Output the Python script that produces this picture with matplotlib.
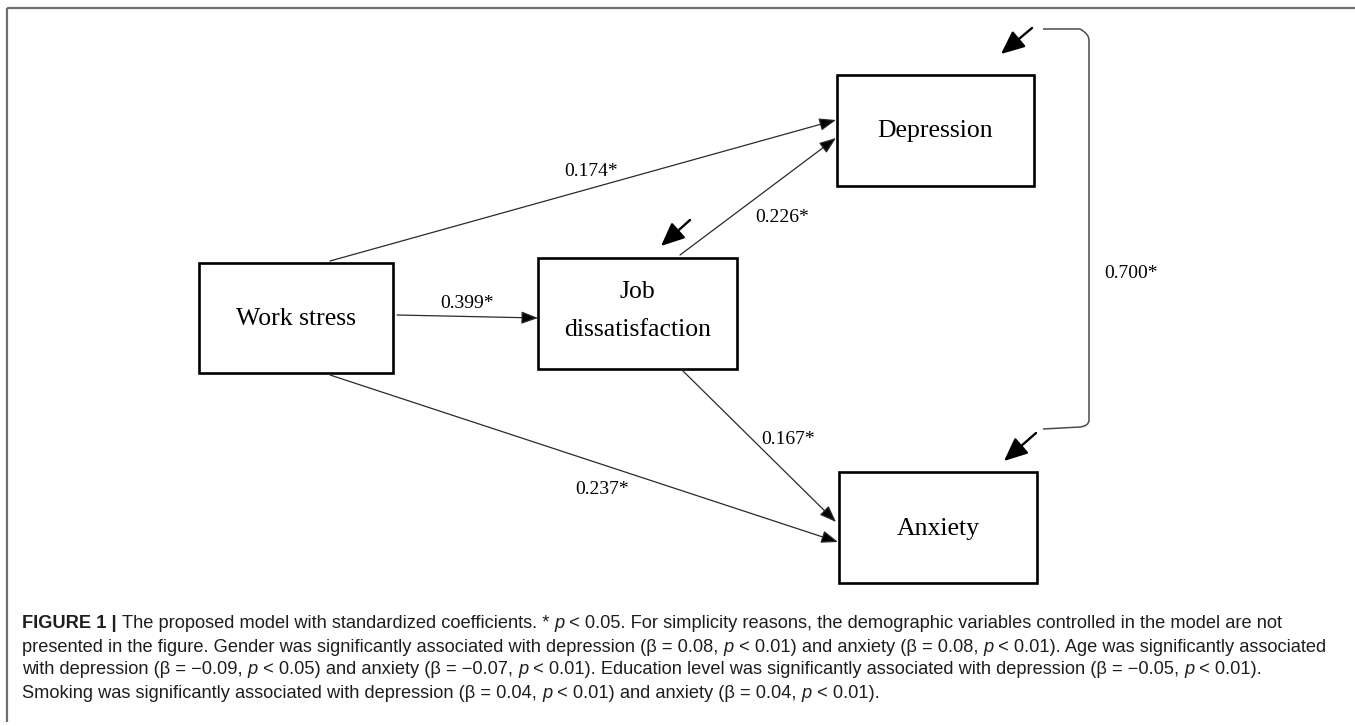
import matplotlib
matplotlib.use("Agg")
import matplotlib.pyplot as plt
from matplotlib.patches import Rectangle, PathPatch
from matplotlib.path import Path
from matplotlib.font_manager import FontProperties

# ---- data -------------------------------------------------------------
nodes = ["Work stress", "Job\ndissatisfaction", "Depression", "Anxiety"]
paths = [("Work stress", "Depression"), ("Job\ndissatisfaction", "Depression"),
         ("Work stress", "Job\ndissatisfaction"), ("Work stress", "Anxiety"),
         ("Job\ndissatisfaction", "Anxiety")]
coefs = ["0.174*", "0.226*", "0.399*", "0.237*", "0.167*"]
covariance = "0.700*"

caption = [
    [("FIGURE 1 | ", "bold", "normal"),
     ("The proposed model with standardized coefficients. * ", "normal", "normal"),
     ("p", "normal", "italic"),
     (" < 0.05. For simplicity reasons, the demographic variables controlled in the model are not", "normal", "normal")],
    [("presented in the figure. Gender was significantly associated with depression (\u03b2 = 0.08, ", "normal", "normal"),
     ("p", "normal", "italic"),
     (" < 0.01) and anxiety (\u03b2 = 0.08, ", "normal", "normal"),
     ("p", "normal", "italic"),
     (" < 0.01). Age was significantly associated", "normal", "normal")],
    [("with depression (\u03b2 = \u22120.09, ", "normal", "normal"),
     ("p", "normal", "italic"),
     (" < 0.05) and anxiety (\u03b2 = \u22120.07, ", "normal", "normal"),
     ("p", "normal", "italic"),
     (" < 0.01). Education level was significantly associated with depression (\u03b2 = \u22120.05, ", "normal", "normal"),
     ("p", "normal", "italic"),
     (" < 0.01).", "normal", "normal")],
    [("Smoking was significantly associated with depression (\u03b2 = 0.04, ", "normal", "normal"),
     ("p", "normal", "italic"),
     (" < 0.01) and anxiety (\u03b2 = 0.04, ", "normal", "normal"),
     ("p", "normal", "italic"),
     (" < 0.01).", "normal", "normal")],
]

# ---- layout (pixel coordinates) --------------------------------------
box_pos = {"Work stress": (199, 263, 194, 110),
           "Job\ndissatisfaction": (538, 258, 199, 111),
           "Depression": (837, 75, 197, 111),
           "Anxiety": (839, 472, 198, 111)}
path_xy = [((330, 261), (836, 120)), ((680, 255), (836, 138)),
           ((397, 315), (538, 318)), ((330, 375), (838, 542)),
           ((682, 370), (836, 522))]
label_xy = [(591, 172), (782, 217), (467, 303), (602, 490), (788, 440)]
resid_xy = [((690, 220), (661, 246)), ((1032, 28), (1001, 54)),
            ((1036, 433), (1004, 461))]

serif = "Liberation Serif"
cap_font = ["Liberation Sans Narrow", "Liberation Sans", "DejaVu Sans"]

W, H = 1355, 726
fig = plt.figure(figsize=(W / 100, H / 100), dpi=100)
ax = fig.add_axes([0, 0, 1, 1])
ax.set_xlim(0, W)
ax.set_ylim(H, 0)
ax.axis("off")

# frame of the figure panel (only top and left visible)
ax.plot([7, W], [8, 8], color="#6e6e6e", lw=1.6, solid_capstyle="butt")
ax.plot([7, 7], [8, 722], color="#6e6e6e", lw=1.6, solid_capstyle="butt")

# boxes
for name in nodes:
    x, y, w, h = box_pos[name]
    ax.add_patch(Rectangle((x, y), w, h, fill=False, ec="black", lw=1.9))
    cx, cy = x + w / 2, y + h / 2
    if "\n" in name:
        top, bot = name.split("\n")
        ax.text(cx, cy - 21, top, ha="center", va="center", fontsize=18.5, family=serif)
        ax.text(cx, cy + 16, bot, ha="center", va="center", fontsize=18.5, family=serif)
    else:
        ax.text(cx, cy + 1, name, ha="center", va="center", fontsize=18.5, family=serif)

# structural paths
for (p0, p1), lab, (lx, ly) in zip(path_xy, coefs, label_xy):
    ax.annotate("", xy=p1, xytext=p0,
                arrowprops=dict(arrowstyle="-|>,head_length=0.85,head_width=0.32",
                                mutation_scale=12, shrinkA=0, shrinkB=0,
                                lw=0.9, color="#2a2a2a", fc="black"))
    ax.text(lx, ly, lab, ha="center", va="center", fontsize=14, family=serif)

# residual arrows
for p0, p1 in resid_xy:
    ax.annotate("", xy=p1, xytext=p0,
                arrowprops=dict(arrowstyle="-|>,head_length=0.95,head_width=0.42",
                                mutation_scale=15, shrinkA=0, shrinkB=0,
                                lw=1.7, color="black"))

# covariance bracket
verts = [(1043, 29), (1080, 29), (1089, 34), (1089, 40),
         (1089, 420), (1089, 426), (1080, 427), (1043, 429)]
codes = [Path.MOVETO, Path.LINETO, Path.CURVE3, Path.CURVE3,
         Path.LINETO, Path.CURVE3, Path.CURVE3, Path.LINETO]
ax.add_patch(PathPatch(Path(verts, codes), fill=False, ec="#4a4a4a", lw=1.1))
ax.text(1131, 273, covariance, ha="center", va="center", fontsize=14, family=serif)

# caption with mixed styles
renderer = fig.canvas.get_renderer()


def seg_width(txt, size, weight, style):
    prop = FontProperties(family=cap_font, size=size, weight=weight, style=style)
    w1 = renderer.get_text_width_height_descent(txt + "|", prop, False)[0]
    w0 = renderer.get_text_width_height_descent("|", prop, False)[0]
    return w1 - w0


# fit the longest line to the width seen in the figure
size = 12.0
longest = max(sum(seg_width(t, size, wt, st) for t, wt, st in line) for line in caption)
size = size * 1303 / longest

cap_y = [624, 647, 670, 693]
for line, y in zip(caption, cap_y):
    x = 22
    for t, wt, st in line:
        ax.text(x, y, t, ha="left", va="center", fontsize=size, fontweight=wt,
                fontstyle=st, family=cap_font, color="#1e1e1e")
        x += seg_width(t, size, wt, st)

fig.savefig("out.png", dpi=100)
